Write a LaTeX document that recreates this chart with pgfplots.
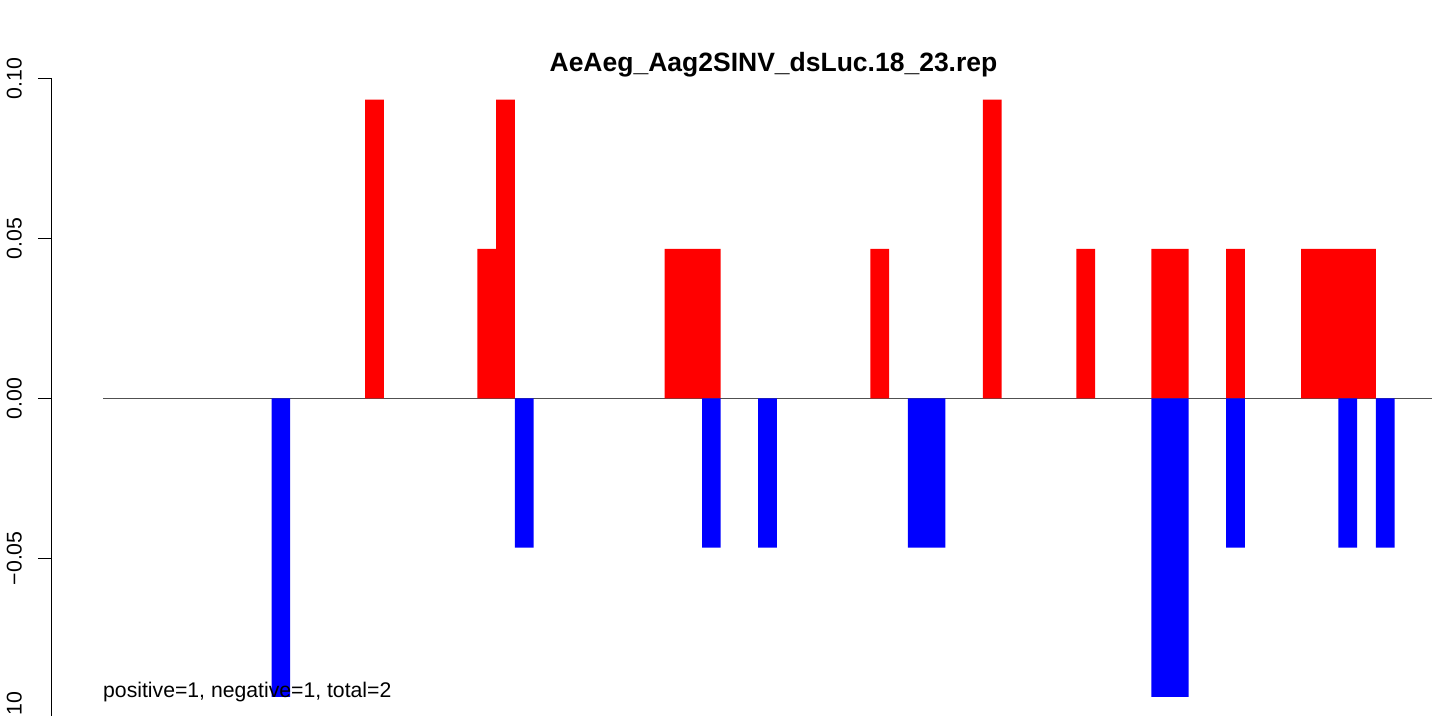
\documentclass[border=0pt]{standalone}
\usepackage{fontspec}
\setmainfont{Liberation Sans}
\usepackage{pgfplots}
\pgfplotsset{compat=1.18}
\definecolor{rred}{RGB}{255,0,0}
\definecolor{rblue}{RGB}{0,0,255}
\begin{document}
\begin{tikzpicture}
\useasboundingbox (0,0) rectangle (1439bp,716bp);
\clip (0,0) rectangle (1439bp,716bp);
\begin{axis}[
  scale only axis,
  width=1381bp, height=640bp,
  at={(51bp,-2.3bp)}, anchor=south west,
  xmin=-2.78, xmax=71,
  ymin=-0.1, ymax=0.1,
  axis x line=none,
  axis y line*=left,
  y axis line style={line width=1bp, black},
  xtick=\empty,
  ytick={-0.1,-0.05,0,0.05,0.1},
  yticklabels={−0.10,−0.05,0.00,0.05,0.10},
  tick align=outside,
  major tick length=13bp,
  tick style={line width=1bp, black},
  yticklabel shift=16.3bp,
  yticklabel style={rotate=90, anchor=base, font=\fontsize{21.3bp}{25bp}\selectfont},
  clip=false,
]
\addplot[draw={rgb,255:red,80;green,80;blue,80}, line width=1bp] coordinates {(0,0) (71,0)};
\addplot[ybar, bar width=1, bar shift=0, fill=rred, draw=none] coordinates {
(14.5,0.0933) (20.5,0.0467) (21.5,0.0933)
(30.5,0.0467) (31.5,0.0467) (32.5,0.0467)
(41.5,0.0467) (47.5,0.0933) (52.5,0.0467)
(56.5,0.0467) (57.5,0.0467) (60.5,0.0467)
(64.5,0.0467) (65.5,0.0467) (66.5,0.0467) (67.5,0.0467)
};
\addplot[ybar, bar width=1, bar shift=0, fill=rblue, draw=none] coordinates {
(9.5,-0.0933) (22.5,-0.0467) (32.5,-0.0467) (35.5,-0.0467)
(43.5,-0.0467) (44.5,-0.0467) (56.5,-0.0933) (57.5,-0.0933)
(60.5,-0.0467) (66.5,-0.0467) (68.5,-0.0467)
};
\end{axis}
\node[anchor=base, inner sep=0pt, font=\bfseries\fontsize{26.5bp}{31bp}\selectfont] at (773.5bp,644.5bp) {AeAeg\_Aag2SINV\_dsLuc.18\_23.rep};
\node[anchor=base west, inner sep=0pt, font=\fontsize{21.2bp}{25bp}\selectfont] at (103bp,19bp) {positive=1, negative=1, total=2};
\end{tikzpicture}
\end{document}
